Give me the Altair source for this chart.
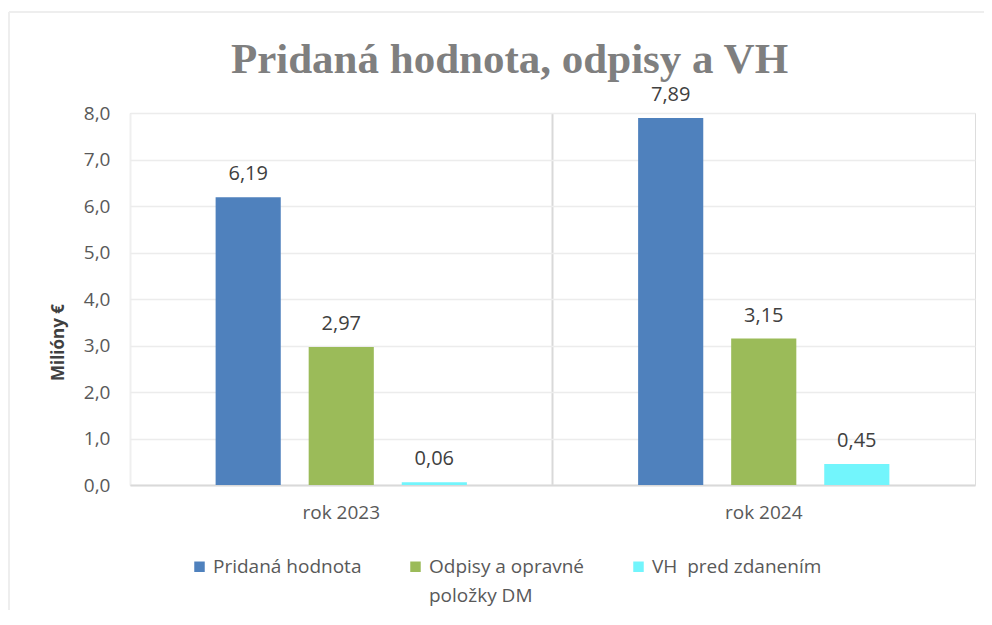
import altair as alt
import pandas as pd

years = ["rok 2023", "rok 2024"]
series = ["Pridaná hodnota", "Odpisy a opravné položky DM", "VH  pred zdanením"]
v2023 = [6.19, 2.97, 0.06]
v2024 = [7.89, 3.15, 0.45]
colors = ["#4F81BD", "#9BBB59", "#72F5FC"]
y_ticks = [0, 1, 2, 3, 4, 5, 6, 7, 8]

rows = []
for yr, vals in zip(years, [v2023, v2024]):
    for s, v in zip(series, vals):
        rows.append({"rok": yr, "ukazovatel": s, "hodnota": v})
df = pd.DataFrame(rows)

FONT = "Open Sans"
TXT = "#595959"

base = alt.Chart(df).encode(
    x=alt.X(
        "rok:N",
        sort=years,
        scale=alt.Scale(paddingInner=0, paddingOuter=0),
        axis=alt.Axis(
            title=None, labelAngle=0, labelFont=FONT, labelFontSize=19,
            labelColor=TXT, labelPadding=12, ticks=False, domainColor="#d9d9d9",
            domainWidth=2, grid=True, bandPosition=0,
            gridColor={"condition": {"test": "datum.value == 'rok 2024'", "value": "#d9d9d9"}, "value": "#efefef"},
            gridWidth=2,
        ),
    ),
    xOffset=alt.XOffset(
        "ukazovatel:N", sort=series,
        scale=alt.Scale(paddingInner=0.3, paddingOuter=0.92),
    ),
    y=alt.Y(
        "hodnota:Q",
        scale=alt.Scale(domain=[0, 8], nice=False),
        axis=alt.Axis(
            title="Milióny €", titleFont=FONT, titleFontSize=17, titleFontWeight="bold",
            titleColor="#404040", titleX=-72, titleY=229, titleAngle=-90,
            titleBaseline="middle",
            values=y_ticks, labelExpr="replace(format(datum.value, '.1f'), '.', ',')",
            labelFont=FONT, labelFontSize=19, labelColor=TXT, labelPadding=20,
            labelOffset=-6,
            ticks=False, domain=False, gridColor="#ececec", gridWidth=1.5,
        ),
    ),
)

bars = base.mark_bar().encode(
    color=alt.Color(
        "ukazovatel:N", sort=series,
        scale=alt.Scale(domain=series, range=colors),
        legend=alt.Legend(
            title=None, orient="none", legendX=60, legendY=444, direction="horizontal",
            symbolType="square", symbolSize=110, symbolStrokeWidth=0,
            labelFont=FONT, labelFontSize=19, labelColor=TXT, labelOffset=4,
            labelBaseline="alphabetic",
            columnPadding=44, padding=0, labelLimit=400,
            labelExpr="datum.label == 'Odpisy a opravné položky DM' ? ['Odpisy a opravné', '\u00a0\u00a0položky DM'] : [replace(datum.label, '  ', ' \u00a0'), '']",
        ),
    )
)

labels = base.transform_calculate(
    lbl="replace(format(datum.hodnota, '.2f'), '.', ',')"
).mark_text(
    baseline="alphabetic", dy=-17, font=FONT, fontSize=20, color="#404040"
).encode(text="lbl:N")

border = alt.Chart(pd.DataFrame({"k": [0]}))
left_line = border.mark_rule(color="#eeeeee", strokeWidth=2).encode(
    x=alt.value(-121), y=alt.value(-101), y2=alt.value(520)
)
top_line = border.mark_rule(color="#eeeeee", strokeWidth=2).encode(
    x=alt.value(-121), x2=alt.value(880), y=alt.value(-101)
)

chart = alt.layer(left_line, top_line, bars, labels).properties(
    width=845,
    height=372,
    autosize=alt.AutoSizeParams(type="none"),
    padding={"left": 122, "top": 105, "right": 9, "bottom": 125},
    title=alt.TitleParams(
        "Pridaná hodnota, odpisy a VH", font="Liberation Serif", fontSize=43,
        fontWeight="bold", color="#7f7f7f", anchor="middle", frame="group",
        baseline="alphabetic", offset=0, dy=105, dx=-43,
    ),
).configure_view(stroke="#efefef", strokeWidth=2).configure(
    background="white",
    style={"guide-label": {"dy": 6, "lineHeight": 29}},
)

chart.save("out.html", embed_options={"renderer": "svg", "actions": False})
